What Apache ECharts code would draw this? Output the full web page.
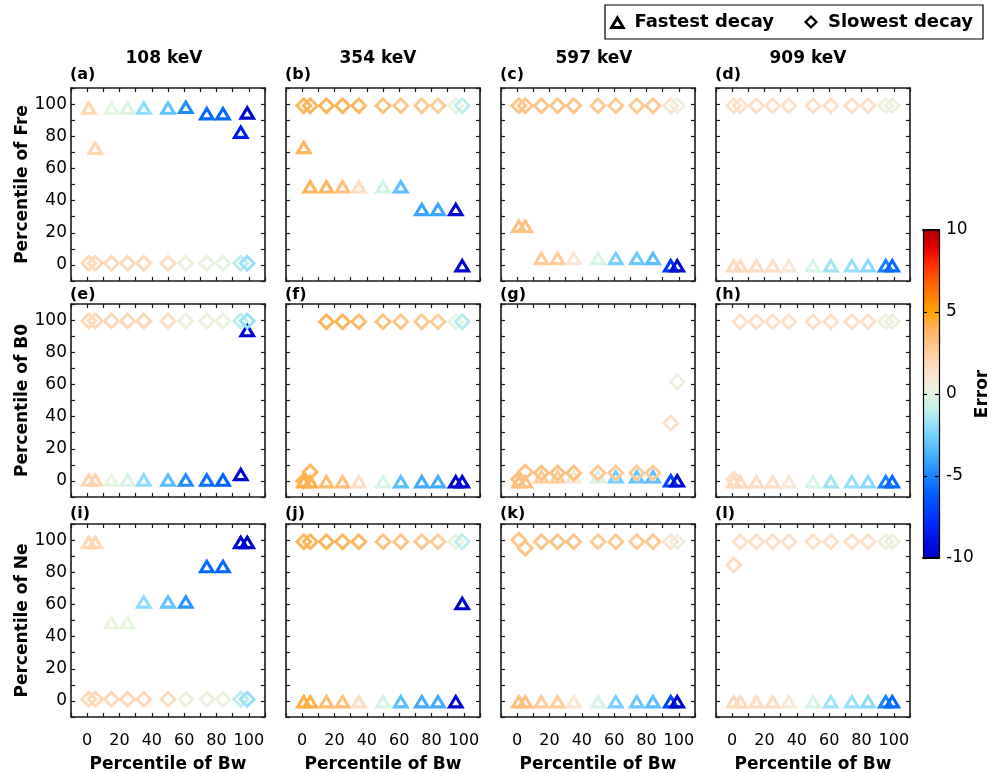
<!DOCTYPE html>
<html><head><meta charset="utf-8">
<script src="https://cdn.jsdelivr.net/npm/echarts@6/dist/echarts.min.js"></script>
<style>html,body{margin:0;padding:0;background:#fff}#chart{width:1000px;height:773px}</style>
</head><body><div id="chart"></div>
<script>
// ---------------- data ----------------
const bwPercentile = [1, 5, 15, 25, 35, 50, 61, 74, 84, 95, 99];
const energyLabels = ['108 keV', '354 keV', '597 keV', '909 keV'];
const paramNames = ['Fre', 'B0', 'Ne'];
const panelLetters = ['a','b','c','d','e','f','g','h','i','j','k','l'];
const percentileTickLabels = [0, 20, 40, 60, 80, 100];
const errorTickLabels = [-10, -5, 0, 5, 10];

// row 1: Fre
const aFastY = [98, 73, 98, 98, 98, 98, 98.5, 94.5, 94.5, 83, 95];
const aFastE = [2, 2, 0, -0.3, -2, -3, -4.8, -5.8, -5.8, -8.5, -9.6];
const aSlowY = [1, 1, 1, 1, 1, 1, 1, 1, 1, 1, 1];
const aSlowE = [1.8, 1.8, 1.8, 1.8, 1.8, 1.5, 0.4, 0.3, 0.1, -1, -1.8];

const bFastY = [73.5, 49, 49, 49, 49, 49, 49, 35, 35, 35, 0];
const bFastE = [4, 4, 3.8, 3.3, 1.5, -0.5, -3.2, -4, -4, -9.5, -9.8];
const bSlowY = [99, 99, 99, 99, 99, 99, 99, 99, 99, 99, 99];
const bSlowE = [4, 4, 4, 4, 3.8, 3.2, 3, 2.8, 2.5, 0.2, -1];

const cFastY = [24.5, 24.5, 4.5, 4.5, 4.5, 4.5, 4.5, 4.5, 4.5, 0, 0];
const cFastE = [3.2, 3.2, 2.5, 2.5, 1, -0.3, -2.5, -2.8, -3.2, -7.5, -9.5];
const cSlowY = [99, 99, 99, 99, 99, 99, 99, 99, 99, 99, 99];
const cSlowE = [3, 3, 3, 3, 3, 2.7, 2.7, 2.7, 2.7, 1.2, 0.3];

const dFastY = [0, 0, 0, 0, 0, 0, 0, 0, 0, 0, 0];
const dFastE = [1.6, 1.6, 1.5, 1.5, 0.8, -0.3, -1.6, -1.8, -2.1, -5, -5.8];
const dSlowY = [99, 99, 99, 99, 99, 99, 99, 99, 99, 99, 99];
const dSlowE = [1.3, 1.3, 1.3, 1.3, 1.3, 1.3, 1.3, 1.3, 1.3, 0.3, 0.3];

// row 2: B0
const eFastY = [1, 1, 1, 1, 1, 1, 1, 1, 1, 4.5, 94];
const eFastE = [2, 2, 0, -0.3, -2, -3.2, -4.8, -5.5, -6, -9.5, -9.8];
const eSlowY = [99.5, 99.5, 99.5, 99.5, 99.5, 99.5, 99.5, 99.5, 99.5, 99.5, 99.5];
const eSlowE = [1.8, 1.8, 1.8, 1.8, 1.8, 1.5, 0.4, 0.3, 0.2, -1, -1.8];

const fFastY = [0, 0, 0, 0, 0, 0, 0, 0, 0, 0, 0];
const fFastE = [4.2, 4.2, 3.5, 3.3, 1.5, -0.4, -3.2, -3.8, -3.8, -9.6, -9.6];
const fSlowY = [0, 5.5, 99, 99, 99, 99, 99, 99, 99, 99, 99];
const fSlowE = [4, 4, 4, 4, 3.7, 3.2, 3, 2.8, 2.6, 0.2, -1.2];

const gFastY = [0, 0, 3, 3, 3, 3, 3, 3, 3, 0.5, 0.5];
const gFastE = [3.2, 3.2, 2.5, 2.5, 1, -0.3, -2.6, -2.9, -3.2, -7, -9.5];
const gSlowY = [1, 5.5, 5, 5, 5, 5, 5, 5, 5, 36, 61.5];
const gSlowE = [3.2, 3.2, 3.2, 3.2, 3.2, 2.7, 2.7, 2.7, 2.7, 1.3, 0.3];

const hFastY = [0, 0, 0, 0, 0, 0, 0, 0, 0, 0, 0];
const hFastE = [1.6, 1.6, 1.5, 1.5, 0.8, -0.3, -1.6, -1.8, -2.1, -5, -5.8];
const hSlowY = [1, 99, 99, 99, 99, 99, 99, 99, 99, 99, 99];
const hSlowE = [1.5, 1.3, 1.3, 1.3, 1.3, 1.3, 1.3, 1.3, 1.3, 0.3, 0.3];

// row 3: Ne
const iFastY = [99, 99, 49, 49, 62, 62, 62, 84, 84, 99, 99];
const iFastE = [2, 2, 0.2, 0, -2, -3, -4.5, -5.8, -5.8, -9.5, -9.8];
const iSlowY = [1, 1, 1, 1, 1, 1, 1, 1, 1, 1, 1];
const iSlowE = [1.8, 1.8, 1.8, 1.8, 1.8, 1.5, 0.4, 0.3, 0.2, -1, -1.8];

const jFastY = [0, 0, 0, 0, 0, 0, 0, 0, 0, 0, 61];
const jFastE = [4.2, 4.2, 3.5, 3.3, 1.5, -0.4, -3.2, -3.8, -3.8, -9.5, -9.8];
const jSlowY = [99, 99, 99, 99, 99, 99, 99, 99, 99, 99, 99];
const jSlowE = [4, 4, 4, 4, 3.8, 3.2, 3, 2.8, 2.5, 0.2, -1];

const kFastY = [0, 0, 0, 0, 0, 0, 0, 0, 0, 0, 0];
const kFastE = [3.2, 3.2, 2.5, 2.5, 1, -0.3, -2.5, -2.8, -3.2, -7, -9.5];
const kSlowY = [100, 95, 99, 99, 99, 99, 99, 99, 99, 99, 99];
const kSlowE = [3, 3, 3, 3, 3, 2.7, 2.7, 2.7, 2.7, 1.2, 0.3];

const lFastY = [0, 0, 0, 0, 0, 0, 0, 0, 0, 0, 0];
const lFastE = [1.6, 1.6, 1.5, 1.5, 0.8, -0.3, -1.6, -1.8, -2.1, -5, -5.8];
const lSlowY = [84.5, 99, 99, 99, 99, 99, 99, 99, 99, 99, 99];
const lSlowE = [1.5, 1.3, 1.3, 1.3, 1.3, 1.3, 1.3, 1.3, 1.3, 0.3, 0.3];

const errorColors = ['#0000c8','#0010e0','#0028f8','#0044ff','#0062ff','#1a84ff','#3ca6ff','#62c4ff','#8edcff','#bdf0ec','#e4f6e0','#fbe6d4','#ffd6b0','#ffc488','#ffb45a','#ffa500','#ff8000','#ff5a00','#ff2a00','#e00000','#b00000'];

// ---------------- layout / style ----------------
const panels = [
  [aFastY, aFastE, aSlowY, aSlowE], [bFastY, bFastE, bSlowY, bSlowE],
  [cFastY, cFastE, cSlowY, cSlowE], [dFastY, dFastE, dSlowY, dSlowE],
  [eFastY, eFastE, eSlowY, eSlowE], [fFastY, fFastE, fSlowY, fSlowE],
  [gFastY, gFastE, gSlowY, gSlowE], [hFastY, hFastE, hSlowY, hSlowE],
  [iFastY, iFastE, iSlowY, iSlowE], [jFastY, jFastE, jSlowY, jSlowE],
  [kFastY, kFastE, kSlowY, kSlowE], [lFastY, lFastE, lSlowY, lSlowE]
];
const FONT = '"DejaVu Sans", "Liberation Sans", sans-serif';
const colLeft = [71, 286, 501, 716];
const rowTop = [88, 304, 524];
const GW = 194, GH = 193;
const AX = '#1a1a1a';

function triPath(w, h, t) {
  const L = Math.hypot(w / 2, h), P = w + 2 * L, r = w * h / P, cy = h - r, k = (r - t) / r, cx = w / 2;
  const ix = x => (cx + (x - cx) * k).toFixed(2), iy = y => (cy + (y - cy) * k).toFixed(2);
  return `path://M${w/2},0L${w},${h}L0,${h}ZM${ix(w/2)},${iy(0)}L${ix(0)},${iy(h)}L${ix(w)},${iy(h)}Z`;
}
function diaPath(s, t) {
  const c = s / 2, d = c - t * Math.SQRT2;
  return `path://M${c},0L${s},${c}L${c},${s}L0,${c}ZM${c},${(c-d).toFixed(2)}L${(c-d).toFixed(2)},${c}L${c},${(c+d).toFixed(2)}L${(c+d).toFixed(2)},${c}Z`;
}
const TRI = triPath(18, 15, 3.1);
const DIA = diaPath(18, 2.9);

const grids = [], xAxes = [], yAxes = [], series = [], graphics = [];
const nameStyle = { fontFamily: FONT, fontWeight: 'bold', fontSize: 17, color: '#000' };
const labelFmt = v => percentileTickLabels.includes(v) ? String(v) : '';

function pAxis(gi, pos, showLabel, name, isX) {
  return {
    type: 'value', gridIndex: gi, position: pos, min: -10, max: 110, interval: 10,
    axisLine: { show: true, onZero: false, lineStyle: { color: AX, width: 1.6 } },
    axisTick: { show: true, inside: true, length: 4, lineStyle: { color: AX, width: 1.2 } },
    axisLabel: { show: showLabel, margin: isX ? 16 : 4, fontFamily: FONT, fontSize: isX ? 16 : 17, color: '#000', formatter: labelFmt },
    splitLine: { show: false },
    name: name || '', nameLocation: 'middle', nameGap: isX ? 39 : 40, nameMoveOverlap: false,
    nameTextStyle: nameStyle, z: 4
  };
}

for (let r = 0; r < 3; r++) {
  for (let c = 0; c < 4; c++) {
    const gi = r * 4 + c;
    grids.push({ left: colLeft[c], top: rowTop[r], width: GW, height: GH, outerBoundsMode: 'none', containLabel: false });
    xAxes.push(pAxis(gi, 'bottom', r === 2, r === 2 ? 'Percentile of Bw' : '', true));
    xAxes.push(pAxis(gi, 'top', false, '', true));
    yAxes.push(pAxis(gi, 'left', c === 0, c === 0 ? 'Percentile of ' + paramNames[r] : '', false));
    yAxes.push(pAxis(gi, 'right', false, '', false));
    const [fy, fe, sy, se] = panels[gi];
    series.push({
      type: 'scatter', name: 'Fastest decay', xAxisIndex: 2 * gi, yAxisIndex: 2 * gi,
      symbol: TRI, symbolSize: [18, 15], silent: true, z: 3, itemStyle: { opacity: 1 },
      data: bwPercentile.map((x, k) => [x, fy[k], fe[k]])
    });
    series.push({
      type: 'scatter', name: 'Slowest decay', xAxisIndex: 2 * gi, yAxisIndex: 2 * gi,
      symbol: DIA, symbolSize: [18, 18], silent: true, z: 3, itemStyle: { opacity: 1 },
      data: bwPercentile.map((x, k) => [x, sy[k], se[k]])
    });
    graphics.push({
      type: 'text', x: colLeft[c] - 1, y: [75, 295, 514][r],
      style: { text: '(' + panelLetters[gi] + ')', font: 'bold 16px ' + FONT, fill: '#000', align: 'left', verticalAlign: 'middle' }
    });
  }
}
const titleX = [164, 378, 594, 808];
energyLabels.forEach((t, c) => graphics.push({
  type: 'text', x: titleX[c], y: 59,
  style: { text: t, font: 'bold 17px ' + FONT, fill: '#000', align: 'center', verticalAlign: 'middle' }
}));

// colorbar
const CB = 12;
grids.push({ left: 923, top: 230, width: 16, height: 328, outerBoundsMode: 'none', containLabel: false });
const cbX = pos => ({ type: 'value', gridIndex: CB, position: pos, min: 0, max: 1,
  axisLine: { show: true, onZero: false, lineStyle: { color: '#000', width: 2 } },
  axisTick: { show: false }, axisLabel: { show: false }, splitLine: { show: false }, z: 6 });
xAxes.push(cbX('bottom'), cbX('top'));
const cbY = (pos, lab) => ({ type: 'value', gridIndex: CB, position: pos, min: -10, max: 10, interval: 5,
  axisLine: { show: true, onZero: false, lineStyle: { color: '#000', width: 1.2 } },
  axisTick: { show: true, inside: true, length: 4, lineStyle: { color: '#000', width: 1.2 } },
  axisLabel: { show: lab, margin: 7, fontFamily: FONT, fontSize: 17, color: '#000',
    formatter: v => errorTickLabels.includes(v) ? String(v) : '' },
  splitLine: { show: false },
  name: lab ? 'Error' : '', nameLocation: 'middle', nameRotate: 90, nameGap: 35, nameMoveOverlap: false,
  nameTextStyle: nameStyle, z: 6 });
yAxes.push(cbY('right', true), cbY('left', false));
const cbStops = errorColors.map((col, k) => ({ offset: 1 - k / (errorColors.length - 1), color: col })).reverse();
series.push({
  type: 'custom', xAxisIndex: 24, yAxisIndex: 24, silent: true, z: 1,
  data: [[0, errorTickLabels[0], errorTickLabels[errorTickLabels.length - 1]]],
  renderItem: (params, api) => {
    const p0 = api.coord([0, api.value(2)]);
    const p1 = api.coord([1, api.value(1)]);
    return { type: 'rect', shape: { x: p0[0], y: p0[1], width: p1[0] - p0[0], height: p1[1] - p0[1] },
      style: { fill: new echarts.graphic.LinearGradient(0, 0, 0, 1, cbStops) } };
  }
});

const chart = echarts.init(document.getElementById('chart'), null, { renderer: 'canvas' });
chart.setOption({
  backgroundColor: '#fff',
  animation: false,
  grid: grids, xAxis: xAxes, yAxis: yAxes, series: series,
  visualMap: { type: 'continuous', show: false, min: -10, max: 10, dimension: 2,
    seriesIndex: Array.from({ length: 24 }, (_, k) => k), inRange: { color: errorColors } },
  legend: {
    left: 605, top: 5, selectedMode: false, symbolKeepAspect: true,
    data: [{ name: 'Fastest decay', icon: TRI, itemStyle: { color: '#000' } },
           { name: 'Slowest decay', icon: DIA, itemStyle: { color: '#000' } }],
    itemWidth: 24, itemHeight: 14, itemGap: 30,
    textStyle: { fontFamily: FONT, fontWeight: 'bold', fontSize: 18, color: '#000' },
    borderColor: '#000', borderWidth: 1.2, padding: [8, 10, 8, 4], backgroundColor: '#fff'
  },
  graphic: graphics
});
</script></body></html>
